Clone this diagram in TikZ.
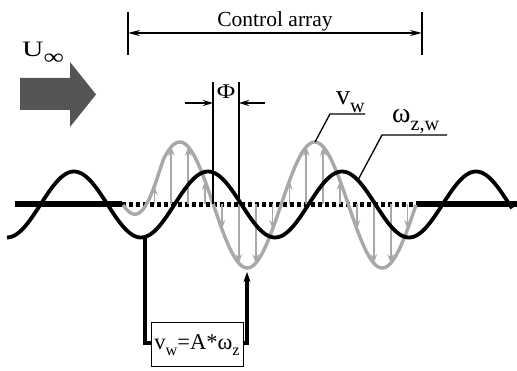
\documentclass[tikz,border=0pt]{standalone}
\usepackage{fontspec}
\setmainfont{Liberation Serif}
\usetikzlibrary{arrows.meta}
\definecolor{wavegray}{HTML}{A8A8A8}
\definecolor{flowgray}{HTML}{555555}
\newcommand\mysub[1]{\raisebox{-0.28em}{\scalebox{0.72}{#1}}}
\begin{document}
\begin{tikzpicture}[x=1pt,y=-1pt,
  ctrl/.style={line width=1.9pt},
  garrow/.style={wavegray,line width=1.8pt,-{Stealth[length=9pt,width=6.5pt]}},
  dimarrow/.style={line width=1.7pt,-{Stealth[length=10pt,width=6pt]}},
  lead/.style={line width=1.3pt},
  fb/.style={line width=3.2pt},
  lbl/.style={inner sep=0pt,anchor=base west}]
\useasboundingbox (0,0) rectangle (517,371);

% flow arrow
\fill[flowgray] (20,78) -- (70,78) -- (70,62) -- (96,94.5) -- (70,127) -- (70,110) -- (20,110) -- cycle;
\node[lbl] (uinf) at (22,57) {\fontsize{22}{22}\selectfont\scalebox{1.35}[1]{U}\raisebox{-0.32em}{\scalebox{1.3}[1]{\fontsize{22}{22}\selectfont ∞}}};

% control array dimension
\coordinate (cl0) at (128,12); \coordinate (cl1) at (128,55);
\coordinate (cr0) at (422,12); \coordinate (cr1) at (422,55);
\draw[ctrl] (cl0) -- (cl1);
\draw[ctrl] (cr0) -- (cr1);
\coordinate (cal) at (128,33); \coordinate (car) at (422,33);
\draw[line width=1.8pt,{Stealth[length=12pt,width=6pt]}-{Stealth[length=12pt,width=6pt]}] (cal) -- (car);
\node[inner sep=0pt,anchor=base] (ctext) at (275,27) {\fontsize{21.5}{21.5}\selectfont Control array};

% axis
\coordinate (a0) at (15,204.5); \coordinate (a1) at (122,204.5);
\coordinate (a2) at (416,204.5); \coordinate (a3) at (517,204.5);
\draw[line width=6pt] (a0) -- (a1);
\draw[line width=5.5pt,dash pattern=on 4pt off 3pt] (a1) -- (a2);
\draw[line width=6pt] (a2) -- (a3);

% gray arrows
\foreach \k in {0,...,15}{
  \pgfmathsetmacro\xa{146+(\k+0.5)*16.875}
  \pgfmathsetmacro\ya{205-63*min(1,(\xa-123)/40)*sin((\xa-146)*2.66667)}
  \draw[garrow] (\xa,204.5) -- (\xa,\ya);
}
% gray wave
\draw[wavegray,line width=3.4pt] plot[domain=123:416,samples=160,smooth] (\x,{205-63*min(1,(\x-123)/40)*sin((\x-146)*2.66667)});
% black wave
\draw[line width=3.8pt] plot[domain=7:512,samples=200,smooth] (\x,{204.5-33*cos((\x-74)*2.68657)});

% phase marks
\coordinate (p1t) at (213,82); \coordinate (p1b) at (213,204);
\coordinate (p2t) at (239,82); \coordinate (p2b) at (239,204);
\draw[line width=1.7pt] (p1t) -- (p1b);
\draw[line width=1.7pt] (p2t) -- (p2b);
\coordinate (pa1) at (185,103); \coordinate (pa1e) at (213,103);
\coordinate (pa2) at (265,103); \coordinate (pa2e) at (239,103);
\draw[dimarrow] (pa1) -- (pa1e);
\draw[dimarrow] (pa2) -- (pa2e);
\node[inner sep=0pt] (phi) at (226,92) {\fontsize{21}{21}\selectfont\scalebox{1.2}[1]{Φ}};

% labels
\node[lbl] (vw) at (336,105) {\fontsize{28}{28}\selectfont v\mysub{w}};
\coordinate (vu0) at (330,114); \coordinate (vu1) at (365,114); \coordinate (vend) at (315,142);
\draw[lead] (vend) -- (vu0) -- (vu1);
\node[lbl] (wz) at (392,123) {\fontsize{28}{28}\selectfont ω\mysub{z,w}};
\coordinate (wu0) at (382,135); \coordinate (wu1) at (447,135); \coordinate (wend) at (358,180);
\draw[lead] (wend) -- (wu0) -- (wu1);

% feedback box
\node[draw,line width=1pt,minimum width=92pt,minimum height=44pt,inner sep=0pt] (box) at (197,345)
  {\fontsize{22.5}{22.5}\selectfont v\mysub{w}=A*ω\mysub{z}};
\coordinate (ftrough) at (145,237);
\coordinate (fl) at (145,343);
\coordinate (fr) at (247,343);
\coordinate (ftip) at (247,272);
\draw[fb] (ftrough) -- (fl) -- (fl -| box.west);
\draw[fb,-{Stealth[length=10pt,width=7pt]}] (fr -| box.east) -- (fr) -- (ftip);
\end{tikzpicture}
\end{document}
